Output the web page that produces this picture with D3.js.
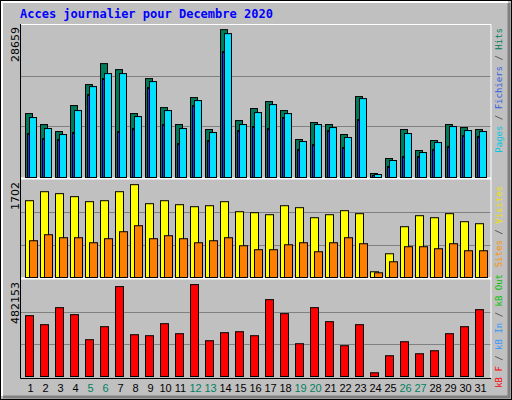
<!DOCTYPE html>
<html><head><meta charset="utf-8">
<script src="https://cdn.jsdelivr.net/npm/d3@7"></script>
<style>body{margin:0;background:#fff}svg{display:block}</style>
</head><body><svg id="c" width="512" height="400"></svg>
<script>
const days = d3.range(1,32).map(String);
const weekend = ["5","6","12","13","19","20","26","27"];
const hits = [12391,10262,8906,13940,18006,22072,20910,12391,19168,13553,10262,15490,9294,28659,11036,13360,14715,12973,7358,10649,10262,8326,15683,774,3679,9294,5228,7164,10262,9681,9294];
const files = [11617,9488,8326,12973,17619,20136,20136,11811,18587,12973,9488,14909,8713,27881,10262,12585,14134,12391,6970,10262,9681,7745,15296,581,3292,8519,4840,6777,9875,9100,8906];
const pages = [8519,7551,7358,8713,16070,19168,8906,9488,17426,10262,6583,13940,7164,24396,9100,9875,9488,11617,5421,6389,9100,5809,11230,387,2130,4066,4066,5421,6002,8132,7938];
const visits = [1408,1573,1537,1482,1390,1408,1573,1702,1353,1408,1335,1298,1316,1390,1206,1188,1151,1316,1280,1096,1151,1225,1170,105,435,931,1133,1096,1170,1023,986];
const sites = [674,784,729,729,637,711,839,949,711,766,711,637,674,729,582,509,509,600,637,472,637,729,619,86,288,564,564,527,619,490,490];
const kbytes = [319161,271839,361225,324419,192969,261323,471643,219259,214001,277097,224517,482153,187711,229775,235033,214001,403289,329677,171937,361225,287613,161421,271839,19455,108841,182453,119357,135131,224517,261323,350709];
const title = "Acces journalier pour Decembre 2020";

const svg = d3.select("#c");
svg.append("rect").attr("x",0.5).attr("y",0.5).attr("width",511).attr("height",399).attr("fill","#c0c0c0").attr("stroke","#000");
svg.append("path").attr("d","M2,396V2H508").attr("fill","none").attr("stroke","#fff").attr("stroke-width",2);
svg.append("path").attr("d","M509,3V397H3").attr("fill","none").attr("stroke","#808080").attr("stroke-width",3);
svg.append("text").attr("x",20).attr("y",18).text(title).attr("fill","#0000ff")
  .style("font-family","DejaVu Sans Mono").style("font-weight","bold").style("font-size","12px");

const x = d3.scaleBand().domain(days).range([22,487]);
const L=20,R=491;
const panels = [
  {top:25,bot:177,max:28659*1.028,label:"28659"},
  {top:180,bot:277,max:1702*1.045,label:"1702"},
  {top:280,bot:376,max:482153*1.045,label:"482153"}
];
panels.forEach(p=>{
  p.y = d3.scaleLinear().domain([0,p.max]).range([p.bot,p.top]);
  const h=p.bot-p.top;
  [1/3,2/3].forEach(f=>svg.append("line").attr("x1",L).attr("x2",R).attr("y1",Math.round(p.top+h*f)+0.5).attr("y2",Math.round(p.top+h*f)+0.5).attr("stroke","#808080"));
  svg.append("text").attr("transform",`translate(19,${p.top+2}) rotate(-90)`).attr("text-anchor","end")
    .text(p.label).style("font-family","DejaVu Sans").style("font-size","11px").attr("fill","#000");
});
svg.append("path").attr("d",`M${L+0.5},378V24.5H${R}V378`).attr("fill","none").attr("stroke","#fff");
[178.5,278.5].forEach(yy=>svg.append("line").attr("x1",L).attr("x2",R).attr("y1",yy).attr("y2",yy).attr("stroke","#fff").attr("stroke-width",2));
svg.append("path").attr("d",`M${L+0.5},24V378.5H${R}`).attr("fill","none").attr("stroke","#000");

function bars(p,data,off,w,color){
  svg.append("g").selectAll("rect").data(data).join("rect")
    .attr("x",(d,i)=>x(days[i])+off+0.5).attr("width",w)
    .attr("y",d=>p.y(d)+0.5).attr("height",d=>Math.max(0,p.bot-p.y(d)))
    .attr("fill",color).attr("stroke","#000");
}
const P=panels;
bars(P[0],hits,3,7,"#007a5a");
bars(P[0],pages,5,2,"#2030ff");
bars(P[0],files,7,7,"#00e0ff");
bars(P[1],visits,3,8,"#ffff00");
bars(P[1],sites,7,8,"#ff8000");
bars(P[2],kbytes,3,8,"#ff0000");

svg.append("g").selectAll("text").data(days).join("text")
  .attr("x",d=>x(d)+x.bandwidth()/2+1).attr("y",392).attr("text-anchor","middle").text(d=>d)
  .attr("fill",d=>weekend.includes(d)?"#008060":"#000")
  .style("font-family","Liberation Sans").style("font-size","11px");

function vlabel(yEnd,parts){
  const t=svg.append("text").attr("transform",`translate(502,${yEnd}) rotate(-90)`).attr("text-anchor","end")
    .style("font-family","DejaVu Sans Mono").style("font-size","9px");
  parts.forEach(([s,c])=>t.append("tspan").text(s).attr("fill",c));
}
vlabel(28,[["Pages","#00c8e0"],[" / ","#404040"],["Fichiers","#3060e0"],[" / ","#404040"],["Hits","#007a5a"]]);
vlabel(186,[["Sites","#ff9000"],[" / ","#404040"],["Visites","#f0e000"]]);
vlabel(274,[["kB F","#ff0000"],[" / ","#404040"],["kB In","#3399ff"],[" / ","#404040"],["kB Out","#00c000"]]);
</script></body></html>
